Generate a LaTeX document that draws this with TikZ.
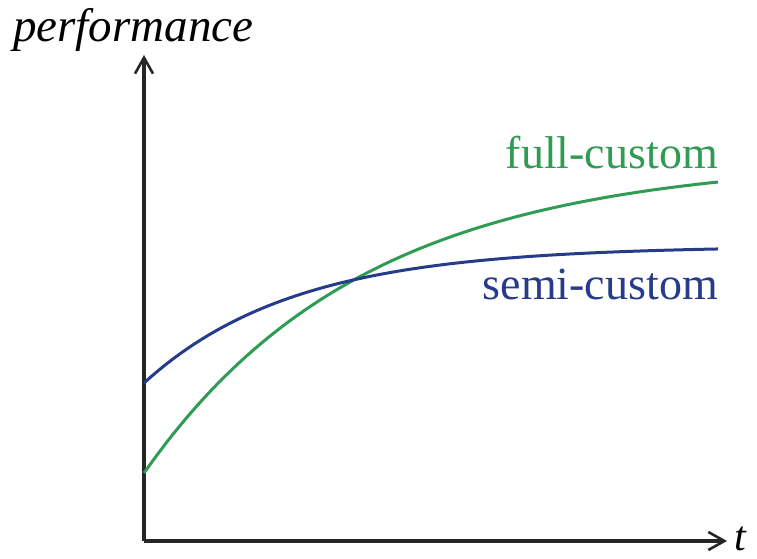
\documentclass[tikz,border=0pt]{standalone}
\usepackage{fontspec}
\setmainfont{Liberation Serif}
\usetikzlibrary{arrows.meta}
\definecolor{fullgreen}{RGB}{48,155,82}
\definecolor{semiblue}{RGB}{38,60,138}
\tikzstyle{axis}=[draw,black!85,line width=3.4pt,-{Straight Barb[length=16pt,width=18pt,line width=2.6pt]}]
\tikzstyle{curve}=[line width=3pt]
\tikzstyle{label}=[inner sep=0pt,anchor=base east,font=\fontsize{46}{50}\selectfont]

\begin{document}
\begin{tikzpicture}[x=1pt,y=1pt]
			\useasboundingbox (0,0) rectangle (757,559);
			\coordinate (o) at (144,18);
			\coordinate (ytop) at (144,504);
			\coordinate (xend) at (727,18);
			% axes
			\path[axis] (o) -- (ytop);
			\path[axis] (o) -- (xend);
			\node[label,anchor=base west,font=\fontsize{47}{52}\selectfont\itshape] (perf) at (13,517) {performance};
			\node[label,anchor=base west,font=\fontsize{42}{48}\selectfont\itshape] (t) at (734,9) {t};
			% the two curves
			\draw[curve,fullgreen] plot[domain=0:574,samples=80] ({144+\x},{18+382.1-314.1*exp(-\x/220)});
			\draw[curve,semiblue] plot[domain=0:574,samples=80] ({144+\x},{18+295-137*exp(-\x/150)});
			\node[label,text=fullgreen] (full) at (718,390) {full-custom};
			\node[label,text=semiblue] (semi) at (718,259) {semi-custom};
		\end{tikzpicture}
\end{document}
